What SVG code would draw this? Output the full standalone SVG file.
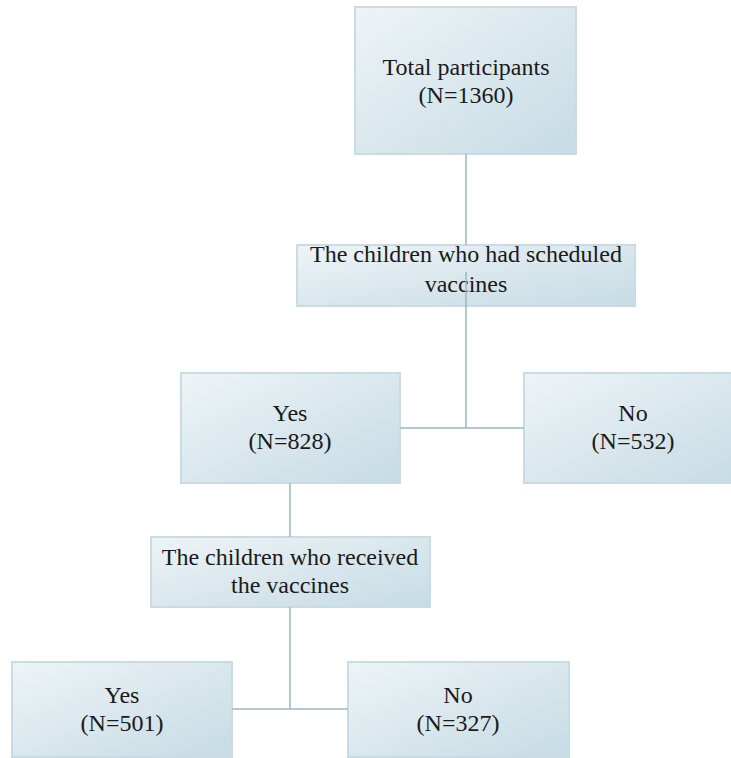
<svg xmlns="http://www.w3.org/2000/svg" width="731" height="758" viewBox="0 0 731 758">
  <defs>
    <linearGradient id="fill" x1="0" y1="0" x2="1" y2="1">
      <stop offset="0" stop-color="#eef4f7"/>
      <stop offset="1" stop-color="#c6dbe4"/>
    </linearGradient>
  </defs>
  <style>
    .box { fill: url(#fill); stroke: #c9dce4; stroke-width: 2; }
    .t { font-family: 'Liberation Serif', 'DejaVu Serif', serif; font-size: 24px; fill: #1a1a1a; text-anchor: middle; }
    .conn { fill: none; stroke: #9db6c1; stroke-width: 1.5; }
  </style>
  <rect width="731" height="758" fill="#ffffff"/>
  <g id="node-total">
    <rect class="box" x="355" y="7" width="221" height="147"/>
    <text class="t" font-family="Liberation Serif, serif" x="466" y="75">Total participants</text>
    <text class="t" font-family="Liberation Serif, serif" x="466" y="103">(N=1360)</text>
  </g>
  <g id="node-scheduled">
    <rect class="box" x="297" y="245" width="338" height="61"/>
    <text class="t" font-family="Liberation Serif, serif" x="466" y="262">The children who had scheduled</text>
    <text class="t" font-family="Liberation Serif, serif" x="466" y="292">vaccines</text>
  </g>
  <g id="node-yes1">
    <rect class="box" x="181" y="373" width="219" height="110"/>
    <text class="t" font-family="Liberation Serif, serif" x="290" y="421">Yes</text>
    <text class="t" font-family="Liberation Serif, serif" x="290" y="449">(N=828)</text>
  </g>
  <g id="node-no1">
    <rect class="box" x="524" y="373" width="221" height="110"/>
    <text class="t" font-family="Liberation Serif, serif" x="633" y="421">No</text>
    <text class="t" font-family="Liberation Serif, serif" x="633" y="449">(N=532)</text>
  </g>
  <g id="node-received">
    <rect class="box" x="151" y="537" width="279" height="70"/>
    <text class="t" font-family="Liberation Serif, serif" x="290" y="565">The children who received</text>
    <text class="t" font-family="Liberation Serif, serif" x="290" y="593">the vaccines</text>
  </g>
  <g id="node-yes2">
    <rect class="box" x="12" y="662" width="220" height="95"/>
    <text class="t" font-family="Liberation Serif, serif" x="122" y="703">Yes</text>
    <text class="t" font-family="Liberation Serif, serif" x="122" y="731">(N=501)</text>
  </g>
  <g id="node-no2">
    <rect class="box" x="348" y="662" width="221" height="95"/>
    <text class="t" font-family="Liberation Serif, serif" x="458" y="703">No</text>
    <text class="t" font-family="Liberation Serif, serif" x="458" y="731">(N=327)</text>
  </g>
  <g id="connectors">
    <path class="conn" d="M466 154 V245 M466 272 V428"/>
    <path class="conn" d="M400 428 H524"/>
    <path class="conn" d="M290 483 V537"/>
    <path class="conn" d="M290 607 V709"/>
    <path class="conn" d="M232 709 H348"/>
  </g>
</svg>
